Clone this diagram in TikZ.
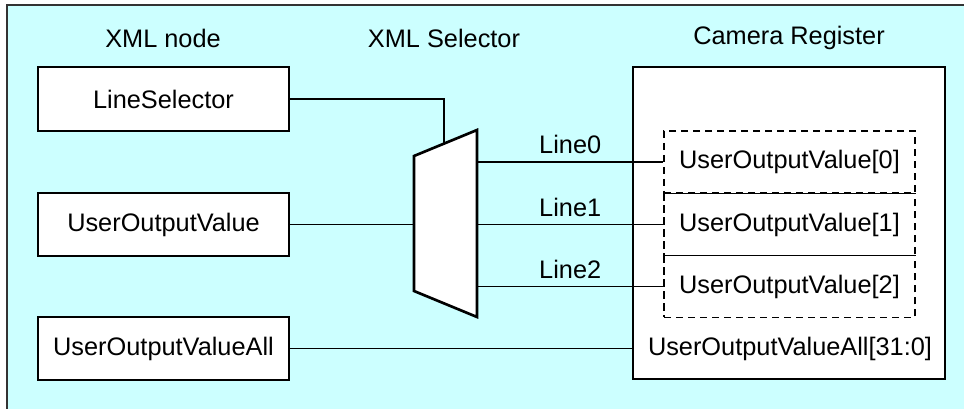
\documentclass[tikz,border=0pt]{standalone}
\usepackage{fontspec}
\setmainfont{Liberation Sans}
\usetikzlibrary{calc}
\definecolor{bgcyan}{RGB}{204,255,255}
\begin{document}
\begin{tikzpicture}[x=0.75pt,y=-0.75pt,
  font=\fontsize{19}{23}\selectfont,
  box/.style={draw=black,line width=1.1pt,fill=white,minimum width=188.25pt,inner sep=0pt},
  dbox/.style={draw=black,line width=0.9pt,dash pattern=on 5.5pt off 3.5pt,minimum width=188.25pt,minimum height=46.5pt,inner sep=0pt},
  wire/.style={draw=black,line width=1.1pt},
  lbl/.style={inner sep=0pt}]
\useasboundingbox (0,0) rectangle (964,409);
\fill[bgcyan] (7,5) rectangle (964,409);
\draw[line width=1pt,black!80] (7,409) -- (7,5) -- (964,5);
% headers
\node[lbl] (h1) at (163,38) {XML node};
\node[lbl] (h2) at (444,38) {XML Selector};
\node[lbl] (h3) at (789,38) {Camera Register};
% left boxes
\node[box,minimum height=48pt] (ls) at (163.5,99) {LineSelector};
\node[box,minimum height=47.25pt] (uov) at (163.5,224.5) {UserOutputValue};
\node[box,minimum height=47.25pt] (uova) at (163.5,348.5) {UserOutputValueAll};
% camera register
\node[box,minimum width=234pt,minimum height=234pt] (cam) at (789,223) {};
\node[dbox] (d0) at (789.5,162) {UserOutputValue[0]};
\node[dbox] (d1) at (789.5,224.5) {UserOutputValue[1]};
\node[dbox] (d2) at (789.5,286.5) {UserOutputValue[2]};
\node[lbl] (all) at (790,349) {UserOutputValueAll[31:0]};
% mux
\coordinate (mTL) at (414,156);
\coordinate (mBL) at (414,291);
\coordinate (mTR) at (477,130);
\coordinate (mBR) at (477,317);
\filldraw[fill=white,draw=black,line width=2pt,line join=miter] (mTL) -- (mTR) -- (mBR) -- (mBL) -- cycle;
\coordinate (sel) at ($(mTL)!0.476!(mTR)$);
% wires
\draw[wire] (ls.east) -- (sel |- ls.east) -- (sel);
\draw[wire] (uov.east) -- (uov.east -| mTL);
\draw[wire] (d0.west -| mTR) -- node[lbl,above=5.5pt] (l0) {Line0} (d0.west);
\draw[wire] (d1.west -| mTR) -- node[lbl,above=5.5pt] (l1) {Line1} (d1.west);
\draw[wire] (d2.west -| mTR) -- node[lbl,above=5.5pt] (l2) {Line2} (d2.west);
\draw[wire] (uova.east) -- (uova.east -| cam.west);
\end{tikzpicture}
\end{document}
